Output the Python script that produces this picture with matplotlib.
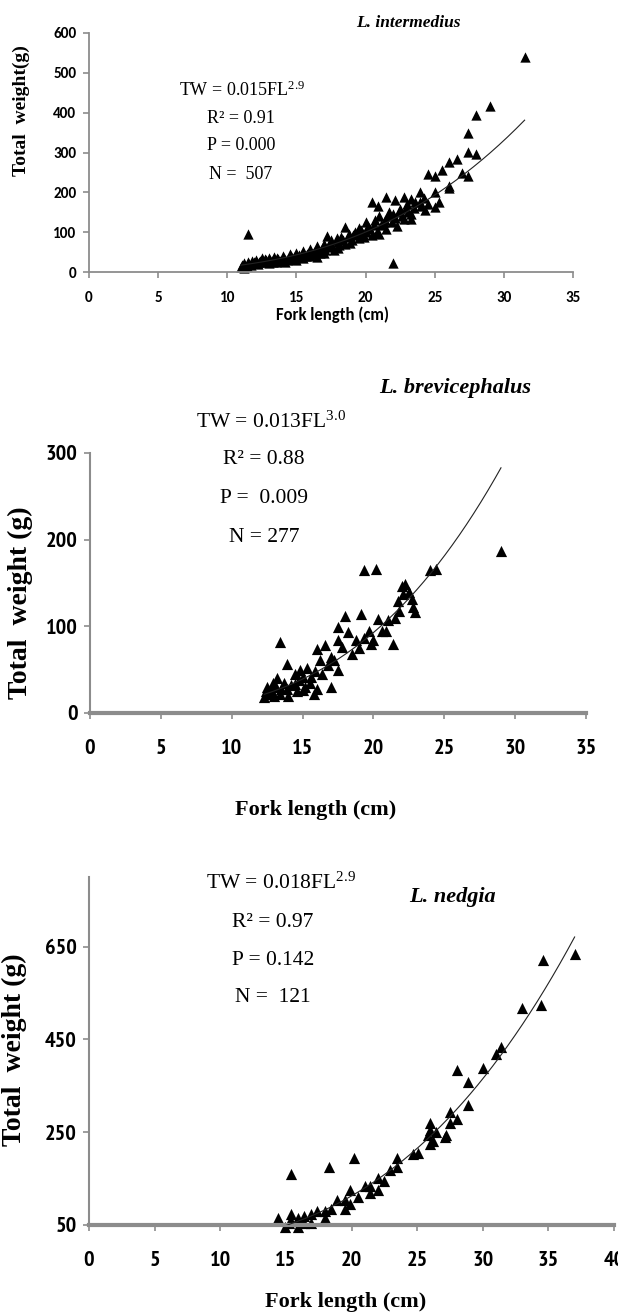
import matplotlib
matplotlib.use("Agg")
import matplotlib.pyplot as plt
import numpy as np

plt.rcParams['mathtext.fontset'] = 'custom'
plt.rcParams['mathtext.rm'] = 'Liberation Serif'
plt.rcParams['mathtext.it'] = 'Liberation Serif:italic'
plt.rcParams['mathtext.bf'] = 'Liberation Serif:bold'

W, H = 618, 1312
GRAY = '#8c8c8c'
SERIF = ['Liberation Serif', 'DejaVu Serif']
NARROW = ['PT Sans Narrow', 'Roboto Condensed', 'DejaVu Sans']
SANS = ['Carlito', 'Lato', 'DejaVu Sans']

# ---------------- data ----------------
# L. intermedius
p1_fl = [11.0, 11.1, 11.2, 11.3, 11.5, 11.6, 11.8, 12.0, 12.1, 12.3, 12.5, 12.6, 12.8, 13.0, 13.0,
         13.2, 13.4, 13.5, 13.7, 14.0, 14.0, 14.2, 14.5, 14.5, 14.8, 15.0, 15.0, 15.2, 15.5, 15.5,
         15.8, 16.0, 16.0, 16.3, 16.5, 16.5, 16.8, 17.0, 17.0, 17.2, 17.3, 17.5, 17.7, 18.0, 18.0,
         18.2, 18.5, 18.5, 18.8, 19.0, 19.2, 19.5, 19.5, 19.8, 20.0, 20.0, 20.2, 20.5, 20.5, 20.7,
         20.9, 21.0, 21.0, 21.3, 21.5, 21.5, 21.7, 21.9, 22.0, 22.1, 22.1, 22.3, 22.5, 22.8, 22.8,
         23.0, 23.3, 23.3, 23.3, 23.5, 23.9, 23.9, 24.2, 24.5, 24.5, 25.0, 25.0, 25.0, 25.3, 25.5,
         26.0, 26.0, 26.0, 26.6, 27.0, 27.4, 27.4, 27.4, 28.0, 28.0, 29.0, 31.5, 11.5,
         11.2, 11.4, 11.7, 11.9, 12.2, 12.4, 12.7, 12.9, 13.1, 13.3, 13.6, 13.8, 14.1, 14.3, 14.6,
         14.9, 15.1, 15.4, 15.7, 15.9, 16.2, 16.4, 16.7, 16.9, 17.1, 17.4, 17.6, 17.9, 18.1, 18.4,
         18.7, 18.9, 19.1, 19.4, 19.7, 19.9, 20.3, 20.6, 20.8, 21.1, 21.4, 21.6, 22.0, 22.4, 22.6,
         22.9, 23.1, 23.6, 24.0, 24.3]
p1_tw = [12, 18, 22, 15, 25, 20, 28, 22, 30, 26, 35, 24, 30, 22, 35,
         28, 38, 25, 32, 30, 40, 26, 45, 33, 38, 30, 48, 42, 52, 35,
         45, 58, 40, 50, 65, 38, 55, 70, 48, 90, 62, 80, 55, 75, 60,
         88, 112, 70, 95, 80, 100, 110, 85, 95, 125, 100, 115, 175, 92, 130,
         165, 95, 140, 125, 188, 108, 150, 125, 23, 180, 135, 115, 158, 188, 133,
         170, 183, 146, 133, 160, 200, 175, 185, 171, 246, 240, 200, 163, 175, 255,
         276, 217, 212, 284, 249, 349, 301, 242, 395, 297, 417, 540, 95,
         10, 14, 17, 24, 20, 28, 32, 26, 31, 24, 36, 28, 35, 30, 40,
         34, 38, 44, 40, 50, 45, 55, 48, 62, 56, 72, 66, 85, 68, 80,
         88, 74, 92, 98, 105, 88, 108, 118, 100, 118, 130, 140, 145, 150, 140,
         160, 150, 175, 165, 155]
p1_fit = [0.015, 2.94]

# L. brevicephalus
p2_fl = [12.3, 12.4, 12.5, 12.6, 12.8, 12.9, 13.0, 13.1, 13.2, 13.4, 13.4, 13.5, 13.7, 13.9, 13.9,
         14.0, 14.2, 14.5, 14.5, 14.6, 14.75, 14.8, 15.0, 15.0, 15.2, 15.3, 15.5, 15.6, 15.8, 15.9,
         16.0, 16.0, 16.2, 16.4, 16.6, 16.8, 17.0, 17.0, 17.25, 17.5, 17.5, 17.5, 17.8, 18.0, 18.2,
         18.5, 18.8, 19.0, 19.1, 19.3, 19.3, 19.7, 19.8, 20.0, 20.2, 20.3, 20.6, 20.9, 21.0, 21.4,
         21.5, 21.7, 21.8, 22.0, 22.1, 22.2, 22.5, 22.7, 22.8, 22.9, 24.0, 24.4, 29.0]
p2_tw = [18, 25, 30, 22, 26, 35, 20, 30, 40, 22, 82, 28, 35, 28, 57,
         20, 32, 34, 45, 25, 38, 50, 26, 42, 30, 52, 35, 41, 22, 49,
         74, 28, 61, 45, 78, 55, 30, 65, 61, 84, 99, 50, 76, 112, 93,
         68, 84, 75, 114, 87, 165, 95, 80, 84, 166, 108, 95, 95, 107, 80,
         110, 129, 118, 147, 137, 149, 140, 131, 122, 116, 165, 166, 187]
p2_fit = [0.0116, 3.0]

# L. nedgia
p3_fl = [37.0, 34.6, 34.4, 33.0, 31.4, 31.0, 30.0, 28.0, 28.9, 28.9, 27.5, 28.0, 27.5, 26.0, 26.0,
         26.4, 25.8, 27.1, 27.2, 26.0, 26.2, 24.7, 25.1, 23.5, 23.5, 20.2, 18.3, 15.4, 22.9, 22.5,
         22.0, 22.0, 21.4, 21.4, 21.0, 20.5, 19.9, 19.9, 19.5, 18.9, 19.5, 18.4, 18.0, 18.0, 17.4,
         16.9, 16.9, 16.4, 15.9, 15.9, 15.4, 15.4, 14.95, 14.4, 15.2, 16.4]
p3_tw = [633, 621, 525, 517, 434, 418, 388, 384, 358, 308, 293, 278, 270, 270, 255,
         251, 244, 240, 244, 225, 232, 202, 206, 194, 175, 194, 175, 160, 168, 145,
         152, 126, 134, 118, 134, 111, 126, 96, 103, 103, 84, 84, 80, 65, 80,
         73, 54, 69, 65, 46, 73, 58, 46, 65, 54, 54]
p3_fit = [0.019, 2.9]

x_ticks_12 = [0, 5, 10, 15, 20, 25, 30, 35]
x_ticks_3 = [0, 5, 10, 15, 20, 25, 30, 35, 40]
y_ticks_1 = [0, 100, 200, 300, 400, 500, 600]
y_ticks_2 = [0, 100, 200, 300]
y_ticks_3 = [50, 250, 450, 650]

species = ['L. intermedius', 'L. brevicephalus', 'L. nedgia']
eq_texts = [
    [r'TW = 0.015FL$^{\mathrm{2.9}}$', 'R² = 0.91', 'P = 0.000', 'N =  507'],
    [r'TW = 0.013FL$^{\mathrm{3.0}}$', 'R² = 0.88', 'P =  0.009', 'N = 277'],
    [r'TW = 0.018FL$^{\mathrm{2.9}}$', 'R² = 0.97', 'P = 0.142', 'N =  121'],
]
ylabels = ['Total  weight(g)', 'Total  weight (g)', 'Total  weight (g)']
xlabel = 'Fork length (cm)'

# ---------------- figure ----------------
fig = plt.figure(figsize=(W / 100, H / 100), dpi=100)


def rect(x0, x1, y_bot, y_top):
    return [x0 / W, 1 - y_bot / H, (x1 - x0) / W, (y_bot - y_top) / H]


def fxy(x, y):
    return x / W, 1 - y / H


def style(ax, bottom_lw, left_lw, tick_font, tick_size, xpad, ypad):
    for s in ['top', 'right']:
        ax.spines[s].set_visible(False)
    ax.spines['bottom'].set_color(GRAY)
    ax.spines['left'].set_color(GRAY)
    ax.spines['bottom'].set_linewidth(bottom_lw)
    ax.spines['left'].set_linewidth(left_lw)
    ax.tick_params(axis='both', direction='out', length=4, width=1.2, color=GRAY)
    ax.tick_params(axis='x', pad=xpad)
    ax.tick_params(axis='y', pad=ypad)
    for lab in ax.get_xticklabels() + ax.get_yticklabels():
        lab.set_fontfamily(tick_font)
        lab.set_fontweight('bold')
        lab.set_fontsize(tick_size)


def trend(ax, fl, fit):
    xs = np.linspace(min(fl), max(fl), 200)
    ax.plot(xs, fit[0] * xs ** fit[1], color='#222222', lw=0.8, zorder=3)


# Panel 1
ax1 = fig.add_axes(rect(89, 573, 272, 33))
ax1.scatter(p1_fl, p1_tw, marker='^', s=55, color='black', linewidths=0, zorder=2, clip_on=False)
trend(ax1, p1_fl, p1_fit)
ax1.set_xlim(0, 35)
ax1.set_ylim(0, 600)
ax1.set_xticks(x_ticks_12)
ax1.set_yticks(y_ticks_1)
style(ax1, 1.3, 1.3, SANS, 11, 10, 5)
ax1.text(23.1, 625, species[0], ha='center', va='center', fontfamily=SERIF,
         fontstyle='italic', fontweight='bold', fontsize=12.5, clip_on=False)
for i, (t, yv) in enumerate(zip(eq_texts[0], [455, 385, 318, 246])):
    ax1.text(11.0 if i else 10.5 + 0.6, yv, t, ha='center', va='center', fontfamily=SERIF, fontsize=13)
fig.text(*fxy(21, 111), ylabels[0], rotation=90, ha='center', va='center',
         fontfamily=SERIF, fontweight='bold', fontsize=14)
fig.text(*fxy(333, 315), xlabel, ha='center', va='center', fontfamily=SANS,
         fontweight='bold', fontsize=12)

# Panel 2
ax2 = fig.add_axes(rect(90, 586, 713, 453))
ax2.scatter(p2_fl, p2_tw, marker='^', s=65, color='black', linewidths=0, zorder=2, clip_on=False)
trend(ax2, p2_fl, p2_fit)
ax2.set_xlim(0, 35)
ax2.set_ylim(0, 300)
ax2.set_xticks(x_ticks_12)
ax2.set_yticks(y_ticks_2)
style(ax2, 3.0, 1.5, NARROW, 16, 15, 5)
ax2.text(25.8, 375, species[1], ha='center', va='center', fontfamily=SERIF,
         fontstyle='italic', fontweight='bold', fontsize=16, clip_on=False)
for i, (t, yv) in enumerate(zip(eq_texts[1], [336, 292, 248, 202])):
    ax2.text(12.3 if i else 12.3 + 0.5, yv, t, ha='center', va='center', fontfamily=SERIF,
             fontsize=15.5, clip_on=False)
fig.text(*fxy(20, 603), ylabels[1], rotation=90, ha='center', va='center',
         fontfamily=SERIF, fontweight='bold', fontsize=20)
fig.text(*fxy(316, 810), xlabel, ha='center', va='center', fontfamily=SERIF,
         fontweight='bold', fontsize=16)

# Panel 3
ax3 = fig.add_axes(rect(89, 614, 1225, 877))
ax3.scatter(p3_fl, p3_tw, marker='^', s=65, color='black', linewidths=0, zorder=2, clip_on=False)
trend(ax3, p3_fl, p3_fit)
ax3.set_xlim(0, 40)
ax3.set_ylim(50, 800)
ax3.set_xticks(x_ticks_3)
ax3.set_yticks(y_ticks_3)
style(ax3, 3.0, 1.5, NARROW, 16, 15, 5)
ax3.text(27.7, 757, species[2], ha='center', va='center', fontfamily=SERIF,
         fontstyle='italic', fontweight='bold', fontsize=16, clip_on=False)
for i, (t, yv) in enumerate(zip(eq_texts[2], [787, 703, 620, 540])):
    ax3.text(14.0 if i else 14.0 + 0.6, yv, t, ha='center', va='center', fontfamily=SERIF,
             fontsize=15.5, clip_on=False)
fig.text(*fxy(14, 1050), ylabels[2], rotation=90, ha='center', va='center',
         fontfamily=SERIF, fontweight='bold', fontsize=20)
fig.text(*fxy(346, 1302), xlabel, ha='center', va='center', fontfamily=SERIF,
         fontweight='bold', fontsize=16)

fig.savefig('out.png', dpi=100)
